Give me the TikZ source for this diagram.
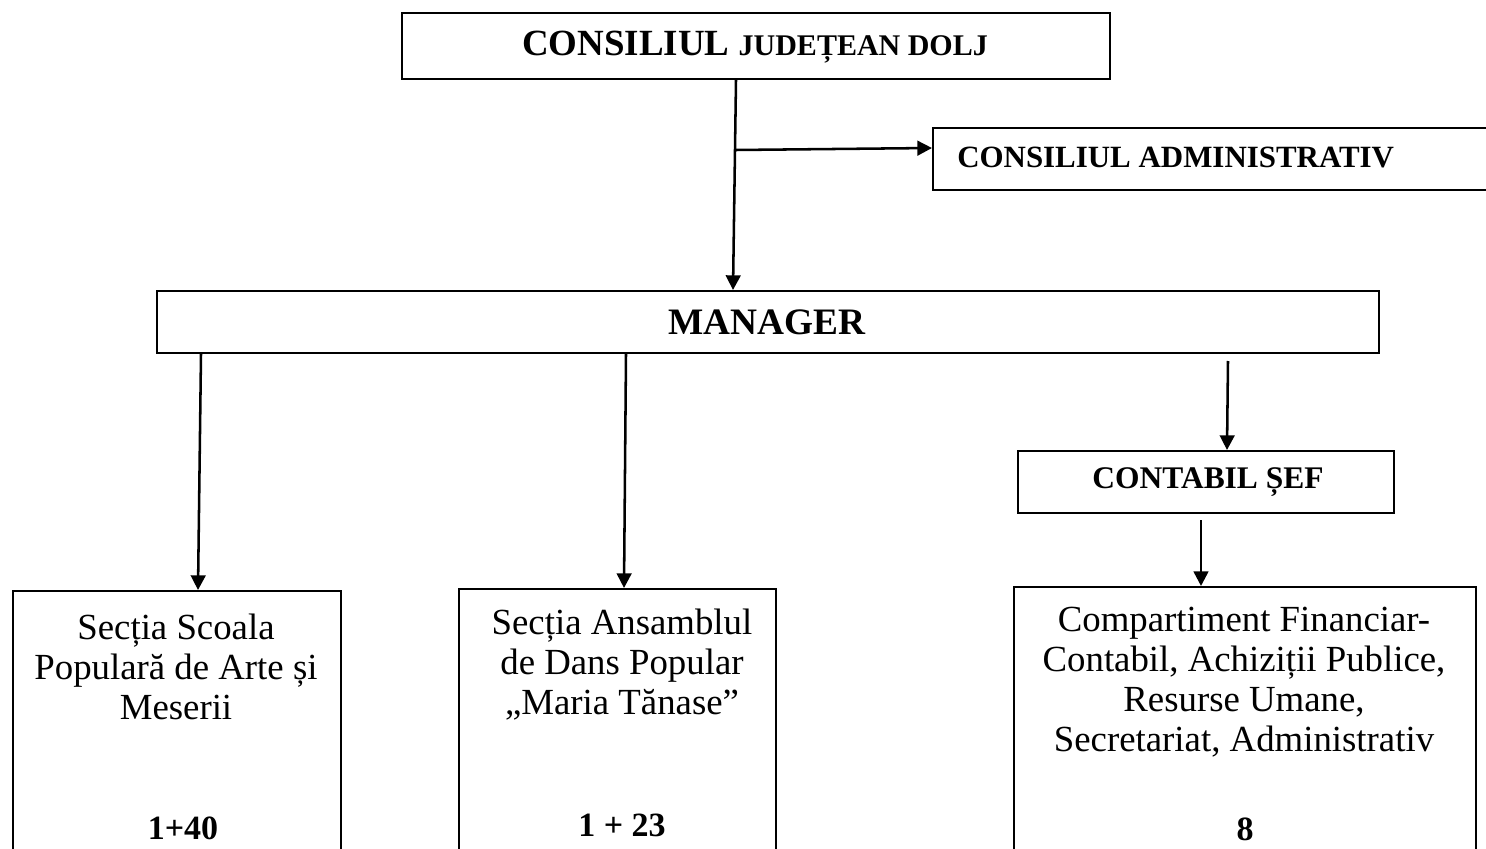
\documentclass[tikz,border=0pt]{standalone}
\usepackage{fontspec}
\setmainfont{Liberation Serif}
\usetikzlibrary{arrows.meta,calc}
\begin{document}
\begin{tikzpicture}[x=0.75pt,y=-0.75pt,
  boxst/.style={draw, line width=1.5pt, rectangle, inner sep=0pt, anchor=north west},
  arr/.style={line width=1.9pt, -{Triangle[length=11pt,width=11pt]}},
  txt/.style={inner sep=0pt, align=center},
  body/.style={txt, font=\fontsize{27.6}{30}\selectfont},
  num/.style={txt, font=\fontsize{25.5}{28}\selectfont\bfseries}]
\clip (0,0) rectangle (1486,849);
\fill[white] (0,0) rectangle (1486,849);
% boxes
\node[boxst, minimum width=531pt, minimum height=49.5pt] (top) at (401,12) {};
\node[boxst, minimum width=450pt, minimum height=46.5pt] (ca) at (932,127) {};
\node[boxst, minimum width=916.5pt, minimum height=46.5pt] (mgr) at (156,290) {};
\node[boxst, minimum width=282pt, minimum height=46.5pt] (cs) at (1017,450) {};
\node[boxst, minimum width=246pt, minimum height=225pt] (b1) at (12,590) {};
\node[boxst, minimum width=237.75pt, minimum height=225pt] (b2) at (458,588) {};
\node[boxst, minimum width=346.5pt, minimum height=225pt] (b3) at (1013,586) {};
% texts
\node[txt, font=\bfseries] (ttop) at (755,47) {\fontsize{27.7}{30}\selectfont CONSILIUL \fontsize{22.5}{26}\selectfont JUDEȚEAN DOLJ};
\node[txt, anchor=west, font=\fontsize{23.2}{26}\selectfont\bfseries] (tca) at (957,157) {CONSILIUL ADMINISTRATIV};
\node[txt, font=\fontsize{28}{30}\selectfont\bfseries] (tmgr) at (767,322) {MANAGER};
\node[txt, font=\fontsize{23.6}{26}\selectfont\bfseries] (tcs) at (1208,482) {CONTABIL ȘEF};
\node[body] (tb1) at (176,667) {Secția Scoala\\Populară de Arte și\\Meserii};
\node[body] (tb2) at (622,665) {Secția Ansamblul\\de Dans Popular\\„Maria Tănase”};
\node[body] (tb3) at (1244,682) {Compartiment Financiar-\\Contabil, Achiziții Publice,\\Resurse Umane,\\Secretariat, Administrativ};
\node[num] (n1) at (183,828) {1+40};
\node[num] (n2) at (622,825) {1 + 23};
\node[num] (n3) at (1245,829) {8};
% connectors
\coordinate (j) at ($(top.south west)+(334.5,70)$);
\draw[arr] ($(top.south west)+(335,0)$) -- ($(mgr.north west)+(577,0)$);
\draw[arr] (j) -- ($(ca.north west)+(0,21)$);
\draw[arr] ($(mgr.south west)+(45,0)$) -- ($(b1.north west)+(186,0)$);
\draw[arr] ($(mgr.south west)+(470,0)$) -- ($(b2.north west)+(166,0)$);
\draw[arr] ($(mgr.south west)+(1072,7)$) -- ($(cs.north west)+(210,0)$);
\draw[arr] ($(cs.south west)+(184,6)$) -- ($(b3.north west)+(188,0)$);
\end{tikzpicture}
\end{document}
